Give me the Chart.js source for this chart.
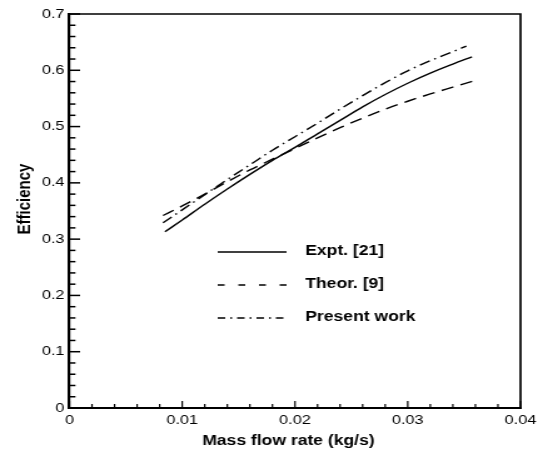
<!DOCTYPE html>
<html>
<head>
<meta charset="utf-8">
<script src="https://cdn.jsdelivr.net/npm/chart.js@4/dist/chart.umd.min.js"></script>
<style>
html,body{margin:0;padding:0;background:#fff;overflow:hidden;}
#wrap{position:absolute;left:0;top:0;width:434px;height:452px;transform:scaleX(1.2512);transform-origin:0 0;}
</style>
</head>
<body>
<div id="wrap"><canvas id="c"></canvas></div>
<script>
// ---- data ----
const exptX  = [0.00847, 0.010, 0.012, 0.014, 0.016, 0.018, 0.020, 0.022, 0.024, 0.026, 0.028, 0.030, 0.032, 0.034, 0.0357];
const exptY  = [0.313, 0.334, 0.362, 0.389, 0.415, 0.440, 0.463, 0.487, 0.511, 0.535, 0.557, 0.577, 0.595, 0.611, 0.624];
const theorX = [0.0083, 0.010, 0.012, 0.014, 0.016, 0.018, 0.020, 0.022, 0.024, 0.026, 0.028, 0.030, 0.032, 0.034, 0.0360];
const theorY = [0.342, 0.359, 0.380, 0.402, 0.423, 0.442, 0.461, 0.480, 0.498, 0.515, 0.531, 0.545, 0.558, 0.570, 0.582];
const presX  = [0.0083, 0.010, 0.012, 0.014, 0.016, 0.018, 0.020, 0.022, 0.024, 0.026, 0.028, 0.030, 0.032, 0.034, 0.0352];
const presY  = [0.329, 0.352, 0.379, 0.406, 0.432, 0.458, 0.482, 0.506, 0.531, 0.555, 0.578, 0.599, 0.617, 0.633, 0.643];
const seriesNames = ["Expt. [21]", "Theor. [9]", "Present work"];
const xTickLabels = ["0", "0.01", "0.02", "0.03", "0.04"];
const yTickLabels = ["0", "0.1", "0.2", "0.3", "0.4", "0.5", "0.6", "0.7"];
const xTitle = "Mass flow rate (kg/s)";
const yTitle = "Efficiency";

const FONT = "'Liberation Sans', Arial, Helvetica, sans-serif";
const pts = (xs, ys) => xs.map((x, i) => ({x: x, y: ys[i]}));
const dashes = [[], [10, 6], [9, 4, 1.5, 4]];
const legendDashes = [[], [5.5, 11], [6, 4, 1.5, 4]];

const decor = {
  id: 'decor',
  afterDraw(chart) {
    const ctx = chart.ctx, a = chart.chartArea;
    const xs = chart.scales.x, ys = chart.scales.y;
    ctx.save();
    ctx.strokeStyle = '#000';
    ctx.lineWidth = 1.2;
    xs.ticks.forEach(t => {
      const p = xs.getPixelForValue(t.value);
      const major = Math.abs(t.value / 0.01 - Math.round(t.value / 0.01)) < 1e-6;
      ctx.beginPath(); ctx.moveTo(p, a.bottom); ctx.lineTo(p, a.bottom - (major ? 7 : 4)); ctx.stroke();
    });
    ctx.lineWidth = 1.5;
    ys.ticks.forEach(t => {
      const p = ys.getPixelForValue(t.value);
      const major = Math.abs(t.value / 0.1 - Math.round(t.value / 0.1)) < 1e-6;
      ctx.beginPath(); ctx.moveTo(a.left, p); ctx.lineTo(a.left + (major ? 8.5 : 4.8), p); ctx.stroke();
    });
    // top and right frame
    ctx.lineWidth = 1.7;
    ctx.beginPath();
    ctx.moveTo(a.left - 1, a.top); ctx.lineTo(a.right, a.top); ctx.lineTo(a.right, a.bottom + 1);
    ctx.stroke();
    ctx.fillStyle = '#000';
    // axis titles
    ctx.textAlign = 'center';
    ctx.textBaseline = 'middle';
    ctx.font = "bold 14px " + FONT;
    ctx.fillText(xTitle, 230.5, 441);
    ctx.save();
    ctx.translate(20, 199);
    ctx.rotate(-Math.PI / 2);
    ctx.font = "bold 15px " + FONT;
    ctx.fillText(yTitle, 0, 0);
    ctx.restore();
    // legend inside plot
    const rows = [251, 284, 317];
    ctx.font = "bold 14px " + FONT;
    ctx.textAlign = 'left';
    seriesNames.forEach((name, i) => {
      ctx.setLineDash(legendDashes[i]);
      ctx.lineWidth = 1.4;
      ctx.beginPath(); ctx.moveTo(174, rows[i] + 1); ctx.lineTo(229, rows[i] + 1); ctx.stroke();
      ctx.setLineDash([]);
      ctx.fillText(name, 244, rows[i]);
    });
    ctx.restore();
  }
};

new Chart(document.getElementById('c'), {
  type: 'scatter',
  data: {
    datasets: [
      {label: seriesNames[0], data: pts(exptX, exptY)},
      {label: seriesNames[1], data: pts(theorX, theorY)},
      {label: seriesNames[2], data: pts(presX, presY)}
    ].map((d, i) => Object.assign(d, {
      showLine: true, borderColor: '#000', backgroundColor: '#000', borderWidth: 1.4,
      borderDash: dashes[i], pointRadius: 0, cubicInterpolationMode: 'monotone', fill: false
    }))
  },
  options: {
    responsive: true, maintainAspectRatio: false, animation: false,
    layout: {padding: {top: 14, right: 18, left: 0, bottom: 0}},
    plugins: {legend: {display: false}, tooltip: {enabled: false}},
    scales: {
      x: {
        type: 'linear', min: 0, max: 0.04,
        afterFit: s => { s.height = 44; },
        border: {display: true, color: '#000', width: 2},
        grid: {display: true, drawOnChartArea: false, drawTicks: false, color: 'rgba(0,0,0,0)'},
        ticks: {
          stepSize: 0.002, autoSkip: false, maxRotation: 0, padding: 5, color: '#000',
          font: {family: FONT, size: 13},
          callback: v => {
            const k = v / 0.01;
            return Math.abs(k - Math.round(k)) < 1e-6 ? xTickLabels[Math.round(k)] : '';
          }
        },
        title: {display: false}
      },
      y: {
        type: 'linear', min: 0, max: 0.7,
        afterFit: s => { s.width = 55.5; },
        border: {display: true, color: '#000', width: 2.2},
        grid: {display: true, drawOnChartArea: false, drawTicks: false, color: 'rgba(0,0,0,0)'},
        ticks: {
          stepSize: 0.02, autoSkip: false, padding: 4, color: '#000',
          font: {family: FONT, size: 13},
          callback: v => {
            const k = v / 0.1;
            return Math.abs(k - Math.round(k)) < 1e-6 ? yTickLabels[Math.round(k)] : '';
          }
        },
        title: {display: false}
      }
    }
  },
  plugins: [decor]
});
</script>
</body>
</html>
